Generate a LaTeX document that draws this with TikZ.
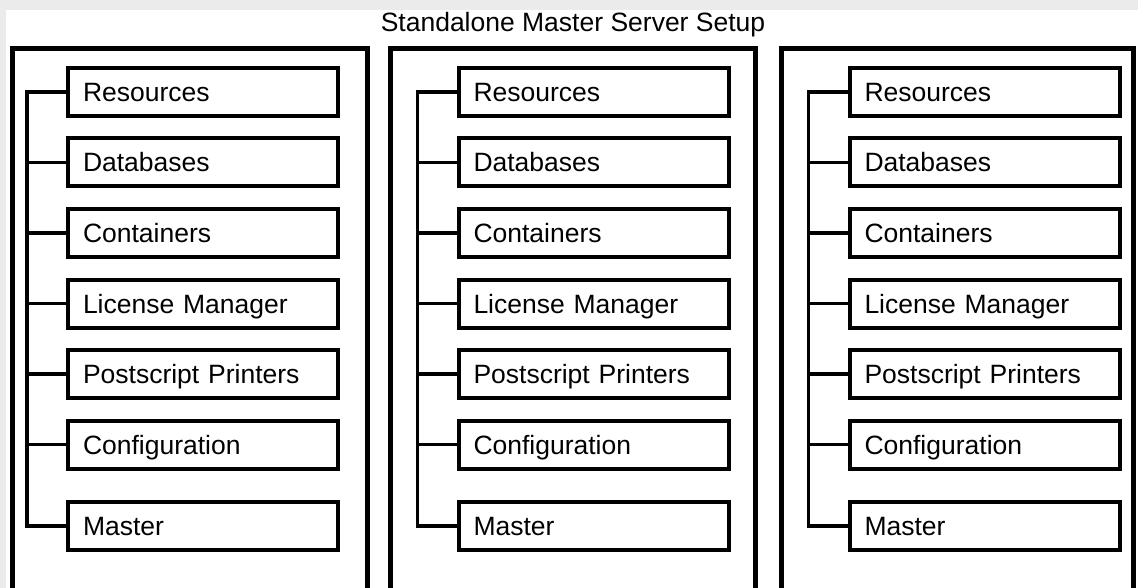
\documentclass[tikz,border=0pt]{standalone}
\usepackage{fontspec}
\setmainfont{Liberation Sans}
\usetikzlibrary{positioning}
\definecolor{bggray}{HTML}{EBEBEB}

\tikzset{
  frame/.style={line width=5pt},
  item/.style={draw,line width=4pt,minimum width=270pt,minimum height=48pt,
    text width=240pt,align=left,inner xsep=15pt,text height=19pt,text depth=0pt,
    font=\fontsize{26.5}{30}\selectfont},
  branch/.style={line width=3.5pt,line cap=rect},
}

\begin{document}
\begin{tikzpicture}[x=1pt,y=1pt,node distance=70.5pt,on grid]
    \useasboundingbox (0,0) rectangle (1138,-588);
    \fill[bggray] (0,0) rectangle (1138,-588);
    \fill[white] (6,-10) rectangle (1138,-588);
    \node[anchor=base,font=\fontsize{26.5}{30}\selectfont] (title) at (573,-32) {Standalone Master Server Setup};
    \clip (0,0) rectangle (1138,-588);
    % one panel per server
    \foreach \l/\r/\c [count=\i] in {12.5/367.5/203, 390.5/755.5/593.5, 781.5/1133.5/984.5} {
      \draw[frame] (\l,-48.5) rectangle (\r,-620);
      \node[item] (res\i) at (\c,-92) {Resources};
      \node[item] (db\i) [below = of res\i] {Databases};
      \node[item] (con\i) [below = of db\i] {Containers};
      \node[item] (lic\i) [below = of con\i] {License Manager};
      \node[item] (ps\i) [below = of lic\i] {Postscript Printers};
      \node[item] (cfg\i) [below = of ps\i] {Configuration};
      \node[item] (mas\i) [below = 81.5pt of cfg\i] {Master};
      \coordinate (t\i) at ([xshift=-39pt]res\i.west);
      \draw[branch] (res\i.west) -- (t\i) |- (mas\i.west);
      \foreach \n in {db,con,lic,ps,cfg}
        \draw[branch] (\n\i.west) -- (\n\i.west -| t\i);
    }
  \end{tikzpicture}
\end{document}
